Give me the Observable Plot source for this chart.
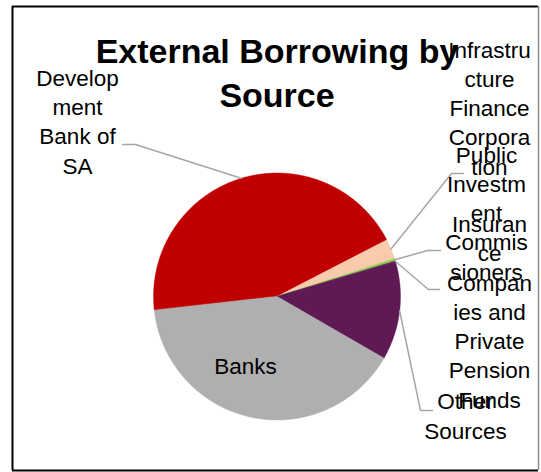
<!DOCTYPE html>
<html><head><meta charset="utf-8">
<script src="https://cdn.jsdelivr.net/npm/d3@7"></script>
<script src="https://cdn.jsdelivr.net/npm/@observablehq/plot@0.6"></script>
<style>body{margin:0;background:#fff} svg{display:block}</style>
</head><body><div id="chart"></div>
<script>
// ---- data ----
const categories = [
  "Development Bank of SA",
  "Infrastructure Finance Corporation",
  "Public Investment Commissioners",
  "Insurance Companies and Private Pension Funds",
  "Other Sources",
  "Banks"
];
const shares = [44.2, 2.6, 0.33, 0.07, 12.9, 39.9];
const wrappedLabels = [
  "Develop\nment\nBank of\nSA",
  "Infrastru\ncture\nFinance\nCorpora\ntion",
  "Public\nInvestm\nent\nCommis\nsioners",
  "Insuran\nce\nCompan\nies and\nPrivate\nPension\nFunds",
  "Other\nSources",
  "Banks"
];
const sliceColors = ["#C00000", "#F8CBAD", "#92D050", "#5E1A55", "#5F1A56", "#AFAFAF"];
const titleText = "External Borrowing by\nSource";

// ---- layout (not data) ----
const W = 541, H = 472;
const FONT = "'Liberation Sans', Arial, sans-serif";
const pieLayout = {cx: 276.5, cy: 296, r: 123.5, startDeg: 263.6};
const labelLayout = [
  {x: 77,  y: 173, leader: [[135, 144], [122, 144]]},
  {x: 489, y: 174, leader: [[451, 173], [463, 173]]},
  {x: 486, y: 279, leader: [[427, 250], [440, 250]]},
  {x: 489, y: 407, leader: [[428, 289], [439, 289]]},
  {x: 465, y: 438, leader: [[420, 410], [432, 410]]},
  {x: 245, y: 373, leader: null}
];
const frameBox = {left: 12, top: 6, right: 538, bottom: 470};

// ---- build ----
const rows = categories.map((c, i) => ({name: c, value: shares[i], label: wrappedLabels[i], i}));
const a0 = pieLayout.startDeg * Math.PI / 180;
const arcs = d3.pie().sort(null).value(d => d.value).startAngle(a0).endAngle(a0 + 2 * Math.PI)(rows);
const px = a => pieLayout.cx + pieLayout.r * Math.sin(a);
const py = a => pieLayout.cy - pieLayout.r * Math.cos(a);

const slicePts = [];
for (const arc of arcs) {
  const n = Math.max(2, Math.ceil((arc.endAngle - arc.startAngle) / (0.4 * Math.PI / 180)));
  slicePts.push({name: arc.data.name, x: pieLayout.cx, y: pieLayout.cy});
  for (let k = 0; k <= n; k++) {
    const a = arc.startAngle + (arc.endAngle - arc.startAngle) * k / n;
    slicePts.push({name: arc.data.name, x: px(a), y: py(a)});
  }
}

const leaderPts = [];
arcs.forEach((arc, i) => {
  const L = labelLayout[i];
  if (!L.leader) return;
  const m = (arc.startAngle + arc.endAngle) / 2;
  leaderPts.push({name: arc.data.name, x: px(m), y: py(m)});
  for (const [x, y] of L.leader) leaderPts.push({name: arc.data.name, x, y});
});

const labels = rows.map((r, i) => ({text: r.label, x: labelLayout[i].x, y: labelLayout[i].y}));

const chart = Plot.plot({
  width: W, height: H,
  margin: 0,
  x: {domain: [0, W], range: [0, W], axis: null},
  y: {domain: [0, H], range: [0, H], axis: null},
  color: {domain: categories, range: sliceColors},
  style: {background: "#fff", fontFamily: FONT},
  marks: [
    Plot.line(slicePts, {x: "x", y: "y", z: "name", fill: "name", stroke: "name", strokeWidth: 0.4, curve: "linear-closed"}),
    Plot.line(leaderPts, {x: "x", y: "y", z: "name", stroke: "#A6A6A6", strokeWidth: 1.5}),
    Plot.text([{t: titleText}], {x: () => pieLayout.cx, y: () => 106, text: "t", fontSize: 34, fontWeight: "bold", lineAnchor: "bottom", lineHeight: 1.294, fill: "#000", fontFamily: FONT}),
    Plot.text(labels, {x: "x", y: "y", text: "text", fontSize: 22.5, lineAnchor: "bottom", lineHeight: 1.3, fill: "#000", fontFamily: FONT}),
    Plot.ruleX([frameBox.left], {y1: frameBox.top, y2: frameBox.bottom, stroke: "#000", strokeWidth: 2}),
    Plot.ruleY([frameBox.top, frameBox.bottom], {x1: frameBox.left, x2: frameBox.right, stroke: "#000", strokeWidth: 2}),
    Plot.ruleX([frameBox.right], {y1: frameBox.top, y2: frameBox.bottom, stroke: "#8c8c8c", strokeWidth: 1.5})
  ]
});
document.getElementById("chart").appendChild(chart);
</script>
</body></html>
